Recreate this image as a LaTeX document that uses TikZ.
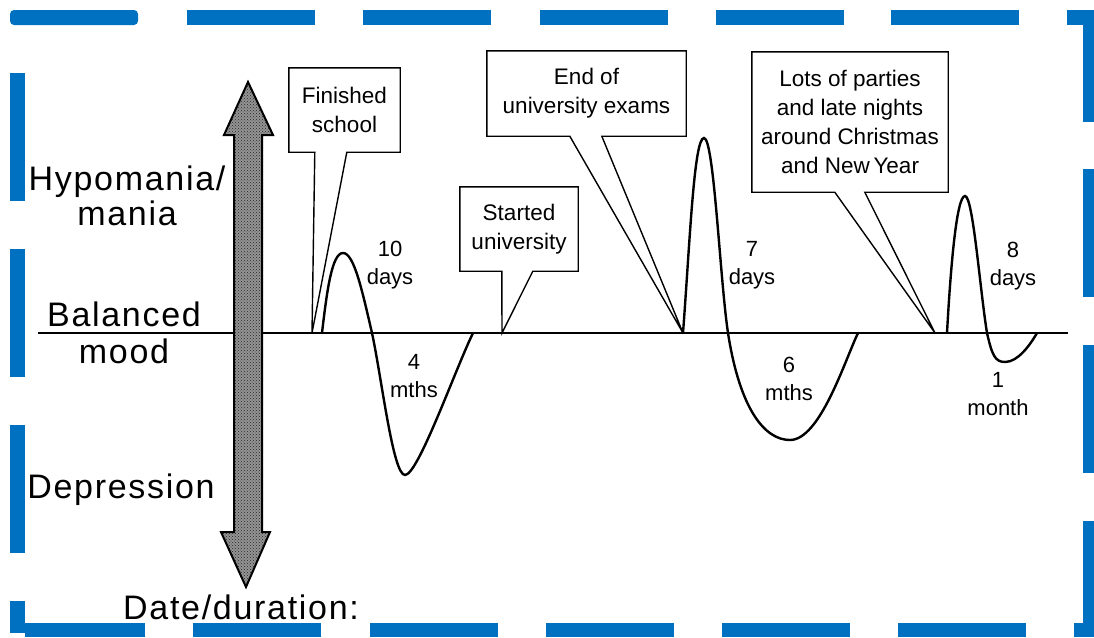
\documentclass[tikz,border=0pt]{standalone}
\usepackage{fontspec}
\setmainfont{Liberation Sans}
\usetikzlibrary{calc,patterns}
\definecolor{frameblue}{RGB}{0,112,192}
\begin{document}
\begin{tikzpicture}[x=1pt,y=-1pt,
  bigtext/.style={inner sep=0pt, align=center,
    font=\fontsize{34}{36}\selectfont\addfontfeature{LetterSpace=5}},
  boxtext/.style={inner sep=0pt, align=center,
    font=\fontsize{22.5}{29}\selectfont},
  numtext/.style={inner sep=0pt, align=center,
    font=\fontsize{22}{28}\selectfont},
  callline/.style={draw=black, line width=1.4pt, line join=miter},
  mood/.style={draw=black, line width=2.4pt, line cap=round},
  dashbar/.style={fill=frameblue}]
\useasboundingbox (0,0) rectangle (1094,637);

% dashed blue frame
\foreach \x in {187,363,540,716,891}
  \fill[dashbar] (\x,10) rectangle ++(128,15);
\fill[dashbar, rounded corners=4pt] (10,10) rectangle (138,25);
\fill[dashbar] (1067,10) rectangle (1094,25);
\fill[dashbar] (1083,10) rectangle (1094,122);
\foreach \y in {169,345}
  \fill[dashbar] (1083,\y) rectangle ++(11,128);
\fill[dashbar] (1083,521) rectangle (1094,637);
\fill[dashbar] (1074,623) rectangle (1094,637);
\foreach \y in {73,249,425}
  \fill[dashbar] (10,\y) rectangle ++(15,128);
\fill[dashbar] (10,601) rectangle (25,633);
\fill[dashbar] (25,623) rectangle (145,637);
\foreach \x in {193,370,546,722,898}
  \fill[dashbar] (\x,623) rectangle ++(128,14);

% mood axis labels
\node[bigtext] (hypo) at (127,195.5) {Hypomania/\\[-1pt]mania};
\node[bigtext] (bal) at (124,333) {Balanced\\[1pt]mood};
\node[bigtext] (dep) at (121,490) {Depression};
\node[bigtext] (date) at (241,607) {Date/duration:};

% baseline of balanced mood
\coordinate (baseL) at (38,333);
\coordinate (baseR) at (1068,333);
\draw[line width=1.8pt] (baseL) -- (baseR);

% stippled grey double arrow
\def\arrowpath{(248,82) -- (273,135) -- (262,135) -- (262,532) -- (270,532)
  -- (246,587) -- (221,532) -- (234,532) -- (234,135) -- (224,135) -- cycle}
\fill[black!42] \arrowpath;
\fill[pattern=crosshatch dots, pattern color=black!85] \arrowpath;
\draw[line width=2pt, line join=miter] \arrowpath;

% callouts
\node[boxtext, minimum width=111pt, minimum height=84pt] (fin) at (344.5,110) {Finished\\school};
\coordinate (finTip) at (312,333);
\draw[callline] ([xshift=26pt]fin.south west) -- (fin.south west) -- (fin.north west)
  -- (fin.north east) -- (fin.south east) -- ([xshift=58pt]fin.south west)
  -- (finTip) -- cycle;

\node[boxtext, minimum width=118pt, minimum height=84pt] (start) at (519,229) {Started\\university};
\coordinate (startTip) at (502,333);
\draw[callline] ([xshift=42pt]start.south west) -- (start.south west) -- (start.north west)
  -- (start.north east) -- (start.south east) -- ([xshift=73pt]start.south west)
  -- (startTip) -- cycle;

\node[boxtext, minimum width=199pt, minimum height=85pt] (exams) at (586.5,93.5) {End of\\university exams};
\coordinate (examsTip) at (683,333);
\draw[callline] ([xshift=83pt]exams.south west) -- (exams.south west) -- (exams.north west)
  -- (exams.north east) -- (exams.south east) -- ([xshift=115pt]exams.south west)
  -- (examsTip) -- cycle;

\node[boxtext, minimum width=196pt, minimum height=140pt] (xmas) at (850,122) {Lots of parties\\and late nights\\around Christmas\\and New\,Year};
\coordinate (xmasTip) at (935,333);
\draw[callline] ([xshift=83pt]xmas.south west) -- (xmas.south west) -- (xmas.north west)
  -- (xmas.north east) -- (xmas.south east) -- ([xshift=113pt]xmas.south west)
  -- (xmasTip) -- cycle;

% mood swings
\draw[mood] (322,333) .. controls (327,290) and (332,253) .. (343,253)
  .. controls (354,253) and (362,290) .. (372,333)
  .. controls (382,380) and (393,475) .. (405,475)
  .. controls (418,475) and (455,370) .. (473,333);
\draw[mood] (683,333) .. controls (690,240) and (694,138) .. (704,138)
  .. controls (714,138) and (720,280) .. (728,333)
  .. controls (740,410) and (765,440) .. (790,440)
  .. controls (820,440) and (845,360) .. (858,333);
\draw[mood] (947,333) .. controls (951,260) and (957,196) .. (965,196)
  .. controls (973,196) and (980,290) .. (987,333)
  .. controls (992,355) and (995,362) .. (1005,362)
  .. controls (1018,362) and (1030,345) .. (1037,333);

% durations
\node[numtext] (d10) at (390,265) {10\\days};
\node[numtext] (m4) at (414,376) {4\\mths};
\node[numtext] (d7) at (752,265) {7\\days};
\node[numtext] (m6) at (789,379) {6\\mths};
\node[numtext] (d8) at (1013,266) {8\\days};
\node[numtext] (m1) at (998,394) {1\\month};
\end{tikzpicture}
\end{document}
